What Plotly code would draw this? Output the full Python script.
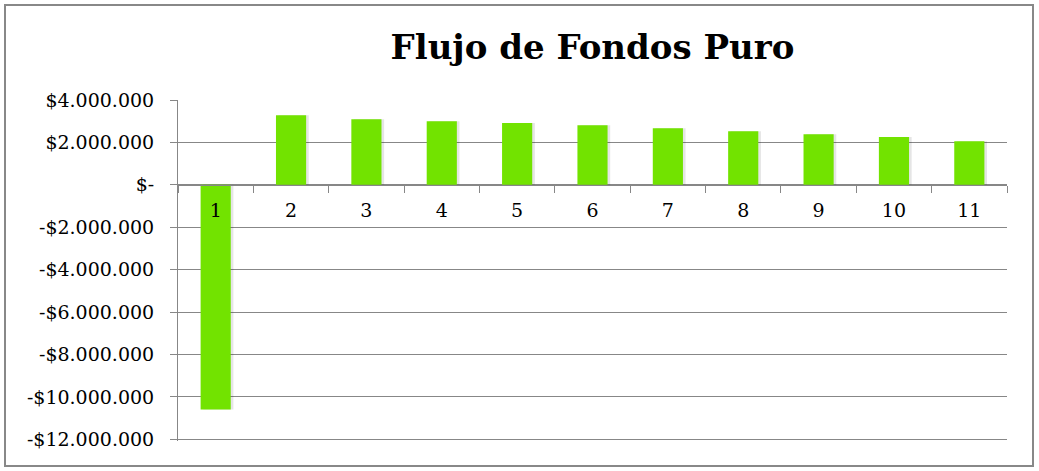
import plotly.graph_objects as go

categories = ["1", "2", "3", "4", "5", "6", "7", "8", "9", "10", "11"]
flujo = [-10600000, 3280000, 3090000, 3000000, 2910000, 2810000, 2670000, 2530000, 2390000, 2250000, 2060000]
tick_vals = [4000000, 2000000, 0, -2000000, -4000000, -6000000, -8000000, -10000000, -12000000]
tick_text = ["$4.000.000", "$2.000.000", "$-", "-$2.000.000", "-$4.000.000", "-$6.000.000",
             "-$8.000.000", "-$10.000.000", "-$12.000.000"]

FONT = "DejaVu Serif"
GRID = "#878787"

fig = go.Figure()
# soft shadow
fig.add_trace(go.Bar(x=categories, y=flujo, width=0.4, offset=-0.165,
                     marker=dict(color="rgba(0,0,0,0.10)", line=dict(width=0)),
                     hoverinfo="skip", showlegend=False))
fig.add_trace(go.Bar(x=categories, y=flujo, width=0.4, offset=-0.2,
                     marker=dict(color="#72E300", line=dict(width=0)),
                     showlegend=False))

ymin, ymax = -12080000, 4000000
zero_pos = (0 - ymin) / (ymax - ymin)

fig.update_layout(
    width=1039, height=471,
    margin=dict(l=178, r=32, t=100, b=30),
    paper_bgcolor="white", plot_bgcolor="white",
    barmode="overlay",
    title=dict(text="<b>Flujo de Fondos Puro</b>", x=0.5, xref="paper", xanchor="center",
               y=0.9, yref="container", yanchor="middle",
               font=dict(family=FONT, size=34, color="black")),
    font=dict(family=FONT, size=19, color="black"),
    xaxis=dict(type="category", anchor="free", position=zero_pos,
               showline=True, linecolor=GRID, linewidth=1,
               ticks="outside", ticklen=7, tickcolor=GRID, tickson="boundaries",
               ticklabelstandoff=8,
               showgrid=False, tickfont=dict(family=FONT, size=19, color="black"),
               range=[-0.5, 10.5]),
    yaxis=dict(range=[ymin, ymax], tickvals=tick_vals, ticktext=tick_text,
               showline=True, linecolor=GRID, linewidth=1,
               ticks="outside", ticklen=7, tickcolor=GRID,
               showgrid=True, gridcolor=GRID, gridwidth=1, zeroline=False,
               ticklabelstandoff=12,
               tickfont=dict(family=FONT, size=19, color="black")),
    shapes=[dict(type="rect", xref="paper", yref="paper",
                 x0=(5 - 178) / 829, x1=(1033 - 178) / 829,
                 y0=(441 - 466) / 341, y1=(441 - 5) / 341,
                 line=dict(color="#888888", width=2), fillcolor="rgba(0,0,0,0)", layer="below")],
)

fig.write_html("out.html", config={"displayModeBar": False},
               post_script="document.body.style.margin='0';document.body.style.overflow='hidden';")
